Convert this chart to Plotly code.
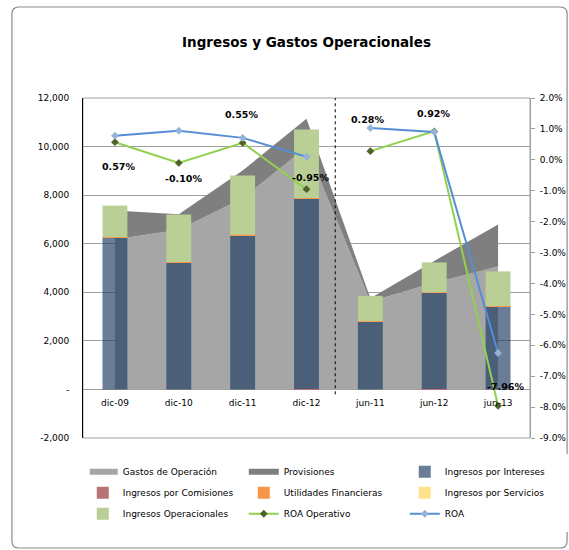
import plotly.graph_objects as go

periodos = ['dic-09', 'dic-10', 'dic-11', 'dic-12', 'jun-11', 'jun-12', 'jun-13']

gastos_operacion = [6170, 6580, 7870, 9980, 3620, 4390, 5060]
provisiones = [1200, 630, 1140, 1170, 130, 900, 1730]

ingresos_intereses = [6250, 5230, 6340, 7860, 2800, 3990, 3420]
ingresos_comisiones = [0, 0, 0, -20, 0, -15, 0]
utilidades_financieras = [20, 15, 25, 20, 10, 10, 10]
ingresos_servicios = [0, 0, 0, 0, 0, 0, 0]
ingresos_operacionales = [1300, 1955, 2445, 2820, 1040, 1230, 1430]

roa_operativo = [0.57, -0.10, 0.55, -0.95, 0.28, 0.92, -7.96]
roa = [0.78, 0.94, 0.71, 0.10, 1.03, 0.90, -6.25]

left_ticks = [-2000, 0, 2000, 4000, 6000, 8000, 10000, 12000]
left_ticktext = ['-2,000', '-', '2,000', '4,000', '6,000', '8,000', '10,000', '12,000']
right_ticks = [-9, -8, -7, -6, -5, -4, -3, -2, -1, 0, 1, 2]
right_ticktext = [f'{v:.1f}%' for v in right_ticks]

FONT = 'DejaVu Sans'
GRID = '#A0A0A0'

fig = go.Figure()

# areas (main subplot, drawn underneath)
fig.add_trace(go.Scatter(
    x=periodos, y=gastos_operacion, name='Gastos de Operación',
    mode='none', stackgroup='gastos', fillcolor='#A6A6A6',
    legendrank=1, yaxis='y'))
fig.add_trace(go.Scatter(
    x=periodos, y=provisiones, name='Provisiones',
    mode='none', stackgroup='gastos', fillcolor='#7F7F7F',
    legendrank=2, yaxis='y'))

# stacked bars on an overlaid axis
bars = [
    ('Ingresos por Intereses', ingresos_intereses, 'rgba(27,57,97,0.66)', 3),
    ('Ingresos por Comisiones', ingresos_comisiones, '#B87374', 4),
    ('Utilidades Financieras', utilidades_financieras, '#F79646', 5),
    ('Ingresos por Servicios', ingresos_servicios, '#FFE38A', 6),
    ('Ingresos Operacionales', ingresos_operacionales, '#B9CF96', 7),
]
for name, vals, col, rank in bars:
    fig.add_trace(go.Bar(
        x=periodos, y=vals, name=name, marker_color=col,
        marker_line_width=0, legendrank=rank, yaxis='y2'))

# ROA lines, broken between the two periods
lines = [
    ('ROA Operativo', roa_operativo, '#92D050', '#4F6228', 8),
    ('ROA', roa, '#558ED5', '#95B3D7', 9),
]
for name, vals, lc, mc, rank in lines:
    for i, sl in enumerate([slice(0, 4), slice(4, 7)]):
        fig.add_trace(go.Scatter(
            x=periodos[sl], y=vals[sl], name=name, mode='lines+markers',
            line=dict(color=lc, width=2),
            marker=dict(symbol='diamond', size=6, color=mc),
            legendgroup=name, showlegend=(i == 0),
            legendrank=rank, yaxis='y3'))

# data labels of ROA Operativo
label_shift = [(4, -24), (5, -16), (-1, 28), (4, 12), (-3, 32), (-1, 18), (7, 19)]
for p, v, (dx, dy) in zip(periodos, roa_operativo, label_shift):
    fig.add_annotation(
        x=p, y=v, xref='x', yref='y3', text=f'<b>{v:.2f}%</b>',
        showarrow=False, xshift=dx, yshift=dy,
        font=dict(family=FONT, size=9.5, color='black'))

# divider between december and june series
fig.add_shape(type='line', xref='x', yref='y', x0=3.45, x1=3.45, y0=-200, y1=12000,
              line=dict(color='black', width=1, dash='dot'))

# plot area border
fig.add_shape(type='rect', xref='paper', yref='paper', x0=0, x1=1, y0=0, y1=1,
              line=dict(color=GRID, width=1), layer='below')

# outer rounded frame
x0, x1, y0, y1 = -0.159, 1.083, -0.3235, 1.2676
rx, ry = 0.016, 0.02
frame = (f'M{x0 + rx},{y1} L{x1 - rx},{y1} Q{x1},{y1} {x1},{y1 - ry} '
         f'L{x1},{y0 + ry} Q{x1},{y0} {x1 - rx},{y0} '
         f'L{x0 + rx},{y0} Q{x0},{y0} {x0},{y0 + ry} '
         f'L{x0},{y1 - ry} Q{x0},{y1} {x0 + rx},{y1} Z')
fig.add_shape(type='path', xref='paper', yref='paper', path=frame,
              line=dict(color='#8C8C8C', width=1.2))

fig.update_layout(
    width=569, height=550, autosize=False,
    margin=dict(l=83, r=39, t=98, b=112, autoexpand=False),
    paper_bgcolor='white', plot_bgcolor='white',
    font=dict(family=FONT, size=9, color='black'),
    title=dict(text='<b>Ingresos y Gastos Operacionales</b>',
               x=0.5, xref='paper', xanchor='center',
               y=1 - 42 / 550, yref='container', yanchor='middle',
               font=dict(family=FONT, size=13.5, color='black')),
    barmode='relative', bargap=0.61,
    showlegend=True,
    legend=dict(orientation='h', x=-0.0005, xanchor='left',
                y=-0.036, yanchor='top',
                traceorder='grouped', tracegroupgap=2,
                entrywidth=116, entrywidthmode='pixels',
                borderwidth=7, bordercolor='rgba(0,0,0,0)',
                font=dict(family=FONT, size=9)),
    xaxis=dict(type='category', categoryorder='array', categoryarray=periodos,
               anchor='free', position=2000 / 14000,
               showline=False, ticks='', showgrid=False, zeroline=False,
               ticklabelstandoff=7, tickfont=dict(size=9)),
    yaxis=dict(range=[-2000, 12000], tickvals=left_ticks, ticktext=left_ticktext,
               showgrid=True, gridcolor=GRID, gridwidth=1,
               zeroline=True, zerolinecolor=GRID, zerolinewidth=1,
               showline=True, linecolor='black', linewidth=1,
               ticks='', ticklabelstandoff=11, tickfont=dict(size=9)),
    yaxis2=dict(range=[-2000, 12000], overlaying='y', visible=False,
                showgrid=False, zeroline=False),
    yaxis3=dict(range=[-9, 2], overlaying='y', side='right', anchor='x',
                tickvals=right_ticks, ticktext=right_ticktext,
                showgrid=False, zeroline=False,
                showline=True, linecolor=GRID, linewidth=1,
                ticks='outside', ticklen=4, tickcolor=GRID,
                ticklabelstandoff=3, tickfont=dict(size=9)),
)

# drop the default page margin so the chart sits at the window origin
fig.write_html('out.html', config={'displayModeBar': False},
               post_script="document.body.style.margin='0';")
